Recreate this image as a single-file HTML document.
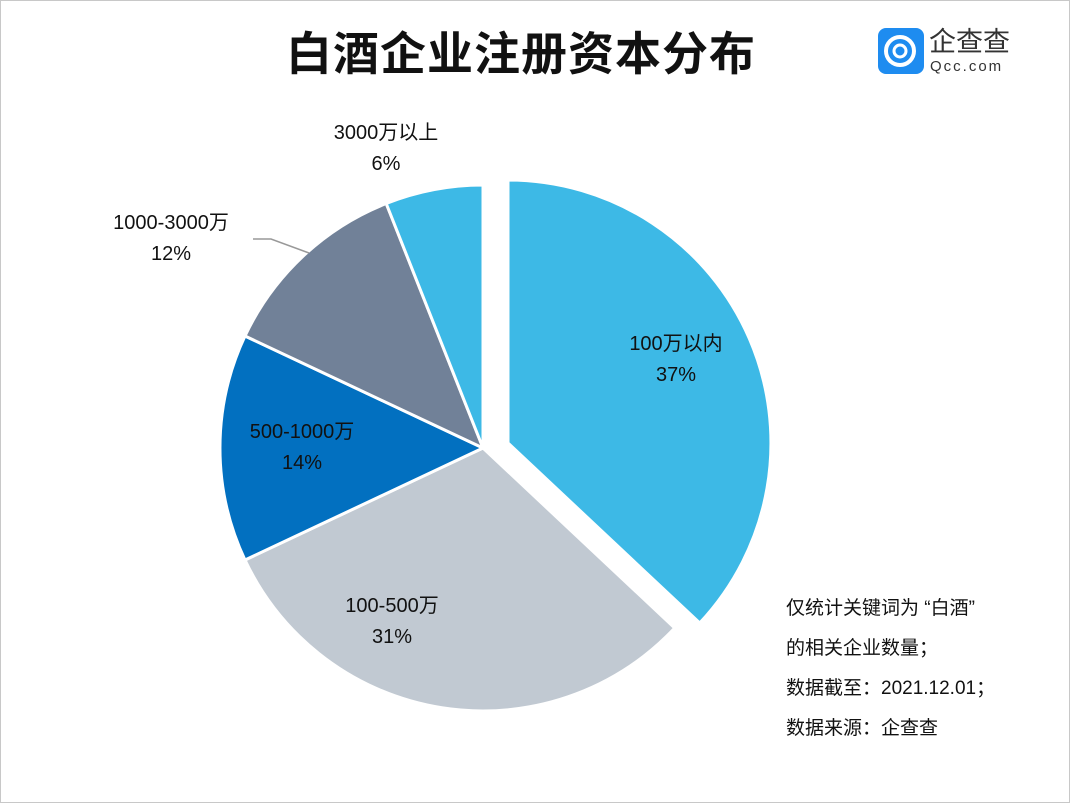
<!DOCTYPE html>
<html><head><meta charset="utf-8"><style>
body{margin:0;background:#fff}
.w{position:relative;width:1068px;height:801px;border:1px solid #c8c8c8;font-family:"Liberation Sans","Noto Sans CJK SC",sans-serif;overflow:hidden}
.t{position:absolute;left:0;width:1040px;top:23px;text-align:center;font-size:46px;font-weight:bold;color:#111;letter-spacing:1px;line-height:60px}
.l{position:absolute;text-align:center;font-size:20px;color:#111;line-height:31px}
.n{position:absolute;left:785px;font-size:19px;color:#111}
</style></head><body><div class="w">
<div class="t">白酒企业注册资本分布</div>
<svg width="1070" height="803" style="position:absolute;left:0;top:0">
<rect x="877" y="27" width="46" height="46" rx="8" fill="#1e8cf0"/>
<circle cx="899" cy="50" r="14" fill="none" stroke="#fff" stroke-width="4"/>
<circle cx="899" cy="50" r="6" fill="none" stroke="#fff" stroke-width="3"/>
<text x="928" y="50" font-size="27" fill="#333" font-family="Noto Sans CJK SC,sans-serif">企查查</text>
<text x="929" y="70" font-size="15" fill="#333" letter-spacing="2" font-family="Liberation Sans,sans-serif">Qcc.com</text>
<g stroke="#fff" stroke-width="3" stroke-linejoin="round">
<path d="M482,447 L673.7,627 A263,263 0 0 1 244,559 Z" fill="#c1c9d2"/>
<path d="M482,447 L244,559 A263,263 0 0 1 244,335 Z" fill="#0270c0"/>
<path d="M482,447 L244,335 A263,263 0 0 1 385.2,202.5 Z" fill="#718198"/>
<path d="M482,447 L385.2,202.5 A263,263 0 0 1 482,184 Z" fill="#3db9e6"/>
<path d="M507,442 L507,179 A263,263 0 0 1 698.7,622 Z" fill="#3db9e6"/>
</g>
<polyline points="252,238 270,238 308,252" fill="none" stroke="#999" stroke-width="1.5"/>
</svg>
<div class="l" style="left:310px;top:117px;width:150px">3000万以上<br>6%</div>
<div class="l" style="left:95px;top:207px;width:150px">1000-3000万<br>12%</div>
<div class="l" style="left:600px;top:328px;width:150px">100万以内<br>37%</div>
<div class="l" style="left:226px;top:416px;width:150px">500-1000万<br>14%</div>
<div class="l" style="left:316px;top:590px;width:150px">100-500万<br>31%</div>
<div class="n" style="top:592px">仅统计关键词为 “白酒”</div>
<div class="n" style="top:632px">的相关企业数量；</div>
<div class="n" style="top:672px">数据截至：2021.12.01；</div>
<div class="n" style="top:712px">数据来源：企查查</div>
</div></body></html>
